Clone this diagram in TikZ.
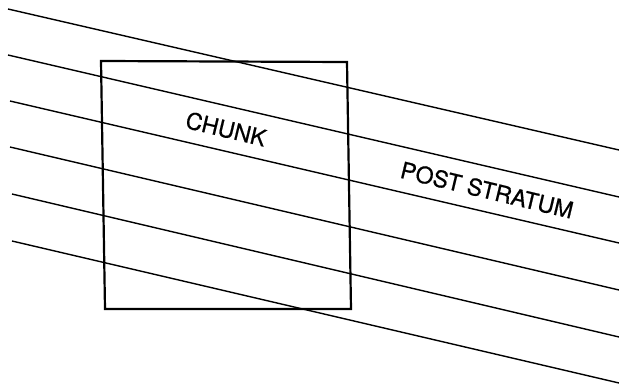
\documentclass[tikz,border=0pt]{standalone}
\usepackage{fontspec}
\setmainfont{TeX Gyre Heros}[FakeBold=0.6]
\begin{document}
\begin{tikzpicture}[x=1pt,y=-1pt,
  stratum/.style={line width=1.4pt},
  chunkbox/.style={line width=2.2pt, line join=miter},
  lbl/.style={font=\fontsize{23}{27}\selectfont, rotate=-13.5, inner sep=0pt}]
  \useasboundingbox (0,0) rectangle (619,388);
  % strata running across the page
  \foreach \i/\ya/\xa/\yb in {1/9/8/150, 2/55/8/197, 3/101/10/243, 4/147/10/290, 5/194/12/337, 6/241/12/383} {
    \coordinate (s\i a) at (\xa,\ya);
    \coordinate (s\i b) at (619,\yb);
    \draw[stratum] (s\i a) -- (s\i b);
  }
  % the chunk
  \coordinate (tl) at (101,61);
  \coordinate (tr) at (347,62);
  \coordinate (br) at (351,309);
  \coordinate (bl) at (105,309);
  \draw[chunkbox] (tl) -- (tr) -- (br) -- (bl) -- cycle;
  \node[lbl] (chunk) at (226,129) {CHUNK};
  \node[lbl] (post) at (487,190) {POST STRATUM};
\end{tikzpicture}
\end{document}
